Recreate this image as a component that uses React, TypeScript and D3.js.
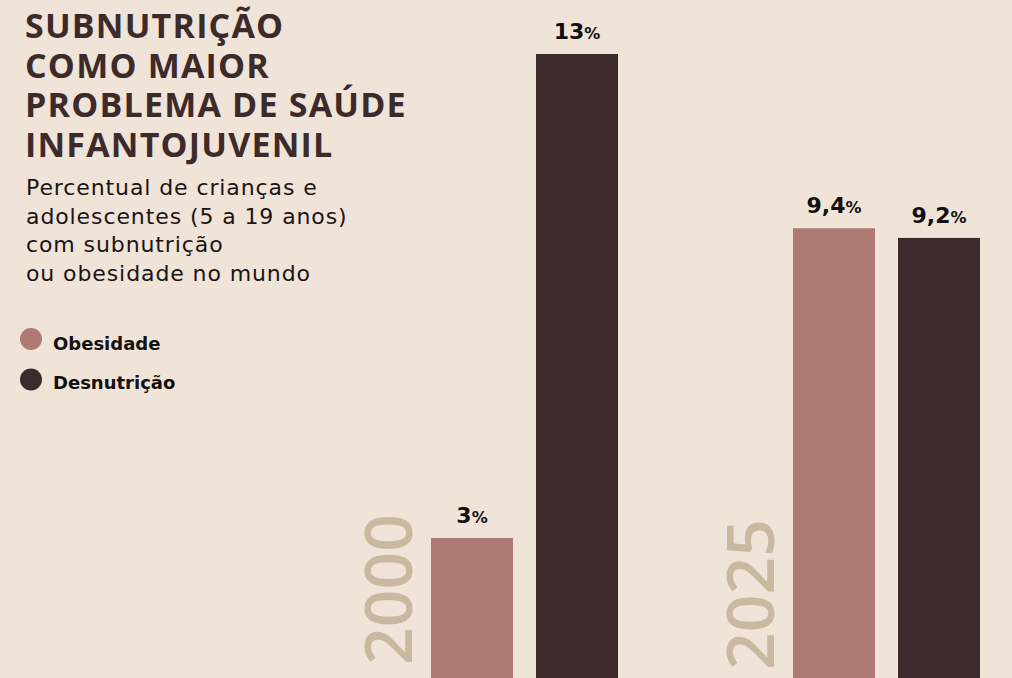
import React from "react";
import * as d3 from "d3";

const years = ["2000", "2025"];
const series = ["Obesidade", "Desnutrição"];
const obesidade = [3, 9.4];
const desnutricao = [13, 9.2];
const valueLabels = [["3", "13"], ["9,4", "9,2"]];
const titleLines = ["SUBNUTRIÇÃO", "COMO MAIOR", "PROBLEMA DE SAÚDE", "INFANTOJUVENIL"];
const subtitleLines = [
  "Percentual de crianças e",
  "adolescentes (5 a 19 anos)",
  "com subnutrição",
  "ou obesidade no mundo",
];

const W = 1012;
const H = 678;
const BG = "#f0e3d8";
const colors = ["#b07a74", "#3d2a2a"];
const TITLE_COLOR = "#3d2b2b";
const YEAR_COLOR = "#c9b9a0";
const FONT = "'Open Sans', sans-serif";
const WIDE = "'DejaVu Sans', sans-serif";

export default function App() {
  const x0 = d3.scaleBand<string>().domain(years).range([362, 362 + 2 * 362]).paddingInner(0).paddingOuter(0);
  const x1 = d3.scaleBand<string>().domain(series).range([69, 256]).paddingInner(23 / 105).paddingOuter(0);
  const y = d3.scaleLinear().domain([0, 13]).range([683.2, 54]);

  const data = years.map((yr, i) => ({
    year: yr,
    values: [obesidade[i], desnutricao[i]],
    labels: valueLabels[i],
  }));

  return (
    <div style={{ position: "absolute", left: 0, top: 0, width: W, height: H, overflow: "hidden" }}>
      <svg width={W} height={H} style={{ display: "block", background: BG }}>
        <rect x={0} y={0} width={W} height={H} fill={BG} />
        <text fontFamily={FONT} fontWeight={700} fontSize={34} letterSpacing={1.2} fill={TITLE_COLOR}>
          {titleLines.map((t, i) => (
            <tspan key={t} x={25} y={38 + i * 39.7}>
              {t}
            </tspan>
          ))}
        </text>
        <text fontFamily={WIDE} fontWeight={400} fontSize={22} letterSpacing={0.9} fill="#1a1414">
          {subtitleLines.map((t, i) => (
            <tspan key={t} x={26} y={195 + i * 28.5}>
              {t}
            </tspan>
          ))}
        </text>
        {series.map((s, i) => (
          <g key={s}>
            <circle cx={31} cy={339 + i * 40.5} r={11} fill={colors[i]} />
            <text x={53} y={350 + i * 38.5} fontFamily={WIDE} fontWeight={700} fontSize={18} fill="#111">
              {s}
            </text>
          </g>
        ))}
        {data.map((d) => {
          const gx = x0(d.year) as number;
          return (
            <g key={d.year} transform={`translate(${gx},0)`}>
              <text
                transform={`translate(50,${d.year === "2000" ? 665 : 670}) rotate(-90)`}
                fontFamily={FONT}
                fontWeight={600}
                fontSize={66}
                fill={YEAR_COLOR}
              >
                {d.year}
              </text>
              {series.map((s, j) => {
                const bx = x1(s) as number;
                const bw = x1.bandwidth();
                const v = d.values[j];
                return (
                  <g key={s}>
                    <rect x={bx} y={y(v)} width={bw} height={H + 10 - y(v)} fill={colors[j]} />
                    <text
                      x={bx + bw / 2}
                      y={y(v) - 15}
                      textAnchor="middle"
                      fontFamily={WIDE}
                      fontWeight={700}
                      fontSize={22}
                      fill="#111"
                    >
                      {d.labels[j]}
                      <tspan fontSize={16}>%</tspan>
                    </text>
                  </g>
                );
              })}
            </g>
          );
        })}
      </svg>
    </div>
  );
}
